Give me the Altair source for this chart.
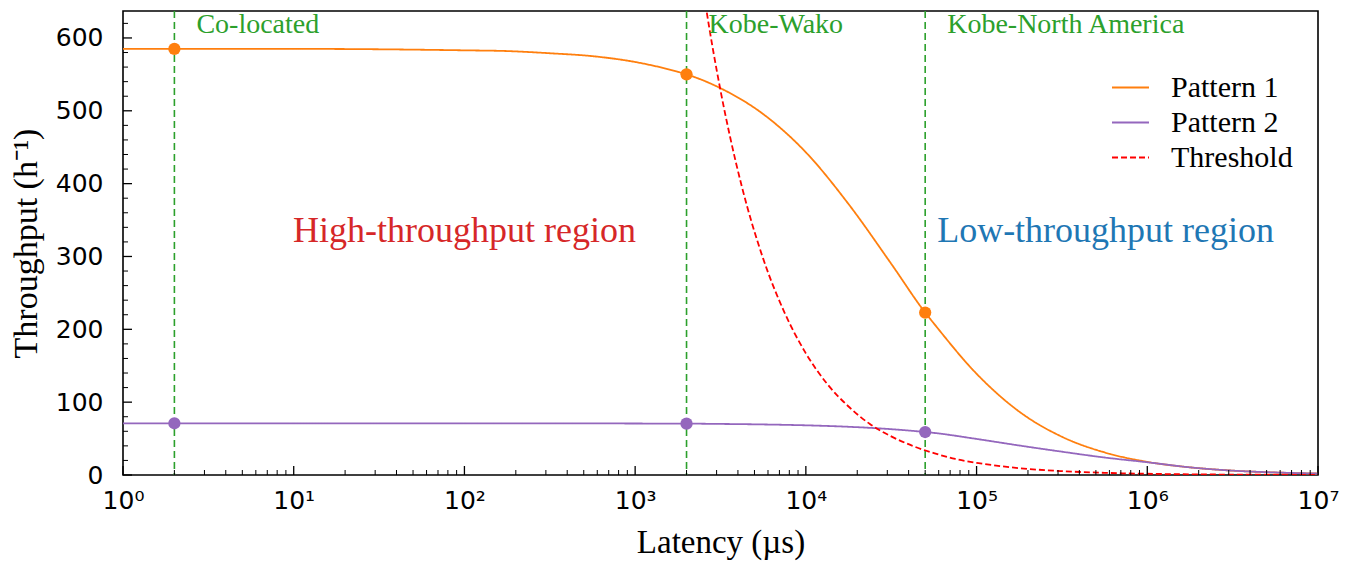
import altair as alt
import pandas as pd

# ---- data ----
lat_p1 = [1, 10, 100, 178, 316, 562, 1000, 1778, 2000, 3162, 5623, 1e4, 17783, 31623,
          50000, 56234, 1e5, 177828, 316228, 562341, 1e6, 1778279, 3162278, 5623413, 1e7]
thr_p1 = [585, 585, 583, 582, 579, 575, 567, 553.5, 550, 531, 495.5, 443, 372, 290,
          223, 208, 139, 87, 52.5, 31, 18, 10.5, 6, 3.4, 2]

lat_p2 = [1, 10, 100, 1000, 1778, 2000, 3162, 5623, 1e4, 17783, 31623, 50000, 56234,
          1e5, 177828, 316228, 562341, 1e6, 1778279, 3162278, 5623413, 1e7]
thr_p2 = [71, 71, 71, 70.7, 70.5, 70.5, 70.1, 69.4, 68.2, 66.2, 62.9, 59, 57.8,
          49.5, 40.5, 32, 24, 17.5, 10.5, 6, 3.5, 2]

lat_th = [2400, 2600, 3162, 3600, 4217, 5623, 7499, 1e4, 13335, 17783, 23714, 31623,
          42170, 56234, 74989, 1e5, 177828, 316228, 562341, 1e6, 3162278, 1e7]
thr_th = [696, 642, 528, 464, 396, 297, 223, 167, 125, 94, 70, 53,
          40, 30, 22, 16.7, 9.4, 5.3, 3.0, 1.7, 0.53, 0.17]

series_names = ["Pattern 1", "Pattern 2", "Threshold"]
series_colors = ["#ff7f0e", "#9467bd", "#ff0000"]

mark_lat = [2, 2000, 50000]
mark_p1 = [585, 550, 223]
mark_p2 = [71, 70.5, 59]

site_names = ["Co-located", "Kobe-Wako", "Kobe-North America"]
site_label_y = [607, 607, 607]

region_names = ["High-throughput region", "Low-throughput region"]
region_lat = [100, 5.7e5]
region_thr = [335, 335]
region_colors = ["#d62728", "#1f77b4"]

x_major = [1, 10, 100, 1000, 1e4, 1e5, 1e6, 1e7]
x_tick_labels = ["10⁰", "10¹", "10²", "10³", "10⁴", "10⁵", "10⁶", "10⁷"]
x_minor = [m * 10 ** k for k in range(7) for m in range(2, 10)]
y_major = [0, 100, 200, 300, 400, 500, 600]
y_minor = [v for v in range(20, 621, 20) if v % 100 != 0]
y_max = 637

W, H = 1195, 464
SERIF = "Liberation Serif"
SANS = "DejaVu Sans"

# ---- tables ----
lines_df = pd.concat([
    pd.DataFrame({"L": lat_p1, "T": thr_p1, "series": "Pattern 1"}),
    pd.DataFrame({"L": lat_p2, "T": thr_p2, "series": "Pattern 2"}),
    pd.DataFrame({"L": lat_th, "T": thr_th, "series": "Threshold"}),
], ignore_index=True)
p1_df = pd.DataFrame({"L": mark_lat, "T": mark_p1})
p2_df = pd.DataFrame({"L": mark_lat, "T": mark_p2})
site_df = pd.DataFrame({"L": mark_lat, "T": site_label_y, "name": site_names})
reg_dfs = [pd.DataFrame({"L": [region_lat[i]], "T": [region_thr[i]], "name": [region_names[i]]})
           for i in range(len(region_names))]
xmaj_df = pd.DataFrame({"L": x_major})
xmin_df = pd.DataFrame({"L": x_minor})
ymaj_df = pd.DataFrame({"T": y_major})
ymin_df = pd.DataFrame({"T": y_minor})

label_expr = "[" + ",".join("'%s'" % s for s in x_tick_labels) + "][round(log(datum.value)/LN10)]"

xscale = alt.Scale(type="log", domain=[1, 1e7], nice=False)
yscale = alt.Scale(domain=[0, y_max], nice=False, zero=True)
xaxis = alt.Axis(values=x_major, labelExpr=label_expr, title="Latency (µs)",
                 ticks=False, tickSize=0, domain=False, grid=False,
                 labelFont=SANS, labelFontSize=25, labelColor="black", labelPadding=13,
                 labelFlush=False,
                 titleFont=SERIF, titleFontSize=33, titleFontWeight="normal",
                 titleColor="black", titlePadding=13)
yaxis = alt.Axis(values=y_major, title="Throughput (h⁻¹)",
                 ticks=False, tickSize=0, domain=False, grid=False,
                 labelFont=SANS, labelFontSize=25, labelColor="black", labelPadding=20,
                 labelFlush=False,
                 titleFont=SERIF, titleFontSize=34, titleFontWeight="normal",
                 titleColor="black", titlePadding=12)


def X():
    return alt.X("L:Q", scale=xscale, axis=xaxis)


def Y():
    return alt.Y("T:Q", scale=yscale, axis=yaxis)


leg = alt.Legend(title=None, orient="none", legendX=988, legendY=59,
                 padding=0, clipHeight=35, rowPadding=0,
                 symbolType="stroke", symbolSize=1369, symbolStrokeWidth=2,
                 labelFont=SERIF, labelFontSize=30, labelColor="black", labelOffset=21,
                 labelLimit=400)

vlines = alt.Chart(site_df).mark_rule(color="#2ca02c", strokeWidth=1.6,
                                      strokeDash=[7, 4]).encode(x=X())

lines = alt.Chart(lines_df).mark_line(interpolate="monotone", clip=True,
                                      strokeWidth=1.8).encode(
    x=X(), y=Y(),
    color=alt.Color("series:N", scale=alt.Scale(domain=series_names, range=series_colors),
                    legend=leg),
    strokeDash=alt.StrokeDash("series:N",
                              scale=alt.Scale(domain=series_names,
                                              range=[[1, 0], [1, 0], [6, 3]]),
                              legend=leg),
    detail="series:N",
)

pts1 = alt.Chart(p1_df).mark_circle(size=150, opacity=1, color="#ff7f0e").encode(x=X(), y=Y())
pts2 = alt.Chart(p2_df).mark_circle(size=150, opacity=1, color="#9467bd").encode(x=X(), y=Y())

site_text = alt.Chart(site_df).mark_text(align="left", baseline="alphabetic", dx=22,
                                         font=SERIF, fontSize=28, color="#2ca02c").encode(
    x=X(), y=Y(), text="name:N")

reg_texts = [
    alt.Chart(reg_dfs[i]).mark_text(align="center", baseline="middle", font=SERIF,
                                    fontSize=36, color=region_colors[i]).encode(
        x=X(), y=Y(), text="name:N")
    for i in range(len(region_names))
]

xmaj = alt.Chart(xmaj_df).mark_rule(color="black", strokeWidth=1.3).encode(
    x=X(), y=alt.value(H), y2=alt.value(H - 9))
xmin = alt.Chart(xmin_df).mark_rule(color="black", strokeWidth=1.0).encode(
    x=X(), y=alt.value(H), y2=alt.value(H - 5))
ymaj = alt.Chart(ymaj_df).mark_rule(color="black", strokeWidth=1.3).encode(
    y=Y(), x=alt.value(0), x2=alt.value(9))
ymin = alt.Chart(ymin_df).mark_rule(color="black", strokeWidth=1.0).encode(
    y=Y(), x=alt.value(0), x2=alt.value(5))

chart = alt.layer(
    vlines, lines, pts1, pts2, site_text, *reg_texts, xmaj, xmin, ymaj, ymin
).properties(
    width=W, height=H,
    background="white",
    autosize=alt.AutoSizeParams(type="none"),
    padding={"left": 115, "top": 3, "right": 26, "bottom": 86},
).configure_view(
    stroke="black", strokeWidth=1.6
)

chart.save("out.html", embed_options={"renderer": "svg", "actions": False})
